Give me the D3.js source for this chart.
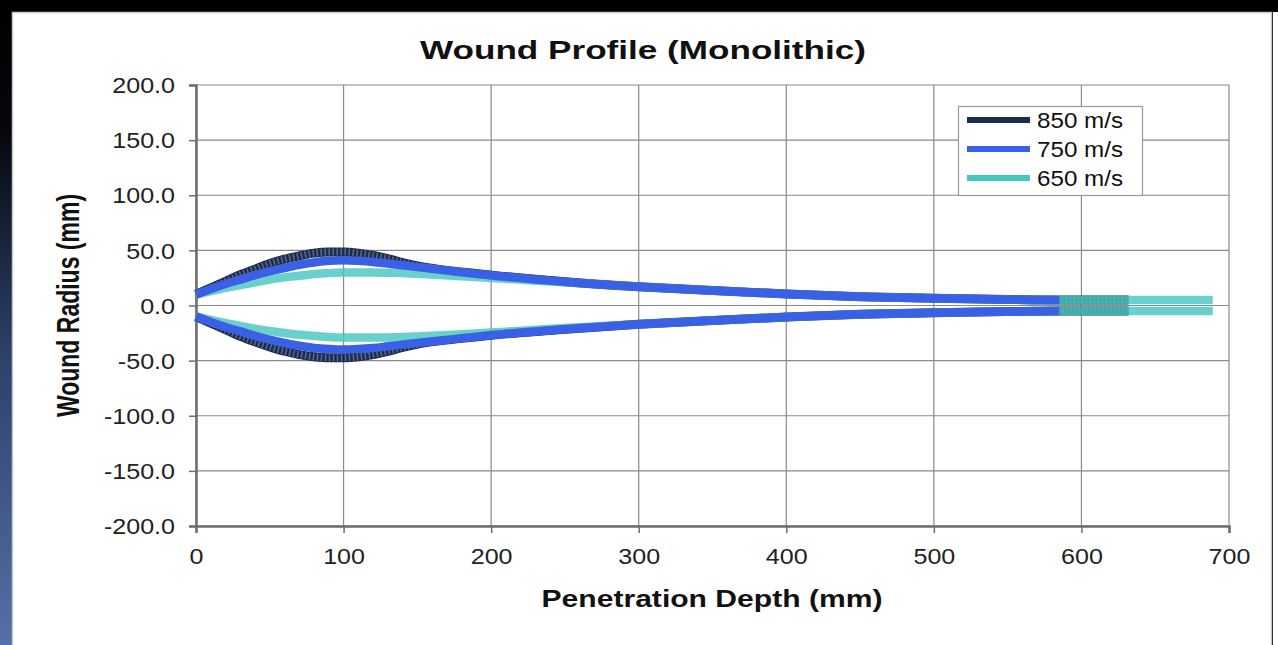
<!DOCTYPE html>
<html>
<head>
<meta charset="utf-8">
<script src="https://cdn.jsdelivr.net/npm/d3@7"></script>
<style>
  body { margin: 0; background: #000; }
  svg { display: block; }
</style>
</head>
<body>
<svg id="chart" width="1278" height="645"></svg>
<script>
// values (depth in mm, radius in mm)
let depth850 = [0, 10, 20, 30, 40, 50, 60, 70, 80, 90, 100, 110, 120, 130, 140, 150, 175, 200, 250, 300, 350, 400, 450, 500, 550, 585, 632]
let upper850 = [10, 16, 22, 28, 33, 38, 42, 45, 47.5, 48.5, 48.5, 47.5, 45.5, 42.5, 39, 36, 31, 27.5, 21.5, 17, 13.5, 10.5, 8, 6.5, 5.5, 5, 5]
let lower850 = [-10, -16, -22, -28, -33, -37.5, -41.5, -44.5, -46.5, -47.5, -47.5, -46.5, -44.5, -41.5, -38, -35, -30.5, -27, -21.5, -17, -13.5, -10.5, -8, -6.5, -5.5, -5, -5]

let depth750 = [0, 10, 20, 30, 40, 50, 60, 70, 80, 90, 100, 110, 120, 130, 140, 150, 175, 200, 250, 300, 350, 400, 450, 500, 550, 585]
let upper750 = [10, 15, 19.5, 23.5, 27.5, 31, 34, 37, 39, 40.5, 41, 40.5, 39.5, 38, 36.5, 35, 31, 27.5, 21.5, 17, 13.5, 10.5, 8, 6.5, 5.5, 5]
let lower750 = [-10, -15, -19.5, -23.5, -27.5, -31, -34, -36.5, -38.5, -39.5, -40, -39.5, -38.5, -37, -35.5, -34, -30.5, -27, -21.5, -17, -13.5, -10.5, -8, -6.5, -5.5, -5]

let depth650 = [0, 10, 20, 30, 40, 50, 60, 70, 80, 90, 100, 120, 140, 160, 180, 200, 225, 250, 300, 350, 400, 450, 500, 550, 585, 632, 689]
let upper650 = [10, 13, 16, 18.5, 21, 23.5, 25.5, 27, 28.5, 29.5, 30, 30, 29.5, 28, 26.5, 25, 23, 21, 17, 13.5, 10.5, 8, 6.5, 5.5, 5, 5, 5]
let lower650 = [-10, -13, -16, -18.5, -21, -23, -25, -26.5, -27.5, -28.5, -29, -29, -28.5, -27.5, -26, -24.5, -22.5, -20.5, -17, -13.5, -10.5, -8, -6.5, -5.5, -5, -5, -5]

let seriesNames = ["850 m/s", "750 m/s", "650 m/s"]
let seriesColors = ["#1d2c4e", "#3a60e6", "#48c6c0"]

let xTicks = [0, 100, 200, 300, 400, 500, 600, 700]
let yTicks = [-200, -150, -100, -50, 0, 50, 100, 150, 200]

let width = 1278
let height = 645

let svg = d3.select("#chart")

// slide background: black with blue fade on the left edge
let defs = svg.append("defs")
let grad = defs.append("linearGradient")
    .attr("id", "edge")
    .attr("x1", 0).attr("y1", 0).attr("x2", 0).attr("y2", 1)
grad.append("stop").attr("offset", "0%").attr("stop-color", "#000")
grad.append("stop").attr("offset", "20%").attr("stop-color", "#05070c")
grad.append("stop").attr("offset", "55%").attr("stop-color", "#2c416a")
grad.append("stop").attr("offset", "100%").attr("stop-color", "#5470a8")

svg.append("rect")
    .attr("x", 0).attr("y", 0)
    .attr("width", 12).attr("height", height)
    .attr("fill", "url(#edge)")

// white chart card
svg.append("rect")
    .attr("x", 12.5).attr("y", 12.5)
    .attr("width", 1259).attr("height", 640)
    .attr("fill", "#fff")
    .attr("stroke", "#c8c8c8")
    .attr("stroke-width", 1.5)
svg.append("rect")
    .attr("x", 1273).attr("y", 12)
    .attr("width", 5).attr("height", height)
    .attr("fill", "#fff")

let margin = { top: 85, right: 49, bottom: 119, left: 196 }

let x = d3.scaleLinear()
    .domain([0, 700])
    .range([margin.left, width - margin.right])

let y = d3.scaleLinear()
    .domain([-200, 200])
    .range([526, margin.top])

let font = "Arial, 'Liberation Sans', sans-serif"
let stretch = 1.14 // the source picture is a bit wider than tall

// gridlines
svg.append("g")
    .selectAll("line")
    .data(yTicks)
    .join("line")
    .attr("x1", x(0))
    .attr("x2", x(700))
    .attr("y1", d => y(d))
    .attr("y2", d => y(d))
    .style("stroke", "#8a8a8a")
    .style("stroke-width", 1.2)

svg.append("g")
    .selectAll("line")
    .data(xTicks)
    .join("line")
    .attr("x1", d => x(d))
    .attr("x2", d => x(d))
    .attr("y1", y(200))
    .attr("y2", y(-200))
    .style("stroke", "#8a8a8a")
    .style("stroke-width", 1.2)

// axes
let xAxisSettings = d3.axisBottom(x)
    .tickValues(xTicks)
    .tickSize(7)
    .tickPadding(15)
    .tickFormat(d3.format("d"))

let yAxisSettings = d3.axisLeft(y)
    .tickValues(yTicks)
    .tickSize(7)
    .tickPadding(14)
    .tickFormat(d => d3.format(".1f")(d).replace("−", "-"))

let xAxis = svg.append("g")
    .attr("transform", `translate(0,${y(-200)})`)
    .call(xAxisSettings)
xAxis.select(".domain").style("stroke", "#6e6e6e").style("stroke-width", 2.5)
xAxis.selectAll(".tick line").style("stroke", "#6e6e6e").style("stroke-width", 1.5)
xAxis.selectAll("text")
    .attr("transform", `scale(${stretch},1)`)
    .style("font-family", font)
    .style("font-size", "22px")
    .style("fill", "#222")

let yAxis = svg.append("g")
    .attr("transform", `translate(${x(0)},0)`)
    .call(yAxisSettings)
yAxis.select(".domain").style("stroke", "#6e6e6e").style("stroke-width", 2.5)
yAxis.selectAll(".tick line").style("stroke", "#6e6e6e").style("stroke-width", 1.5)
yAxis.selectAll("text")
    .attr("x", -21 / stretch)
    .attr("transform", `scale(${stretch},1)`)
    .attr("dy", "0.35em")
    .style("font-family", font)
    .style("font-size", "22px")
    .style("fill", "#222")

// series lines
let line = d3.line()
    .x(d => x(d[0]))
    .y(d => y(d[1]))
    .curve(d3.curveMonotoneX)

// 850 first, 650 slightly see-through over it, 750 on top
let branches = [
    { depth: depth850, r: upper850, s: 0 },
    { depth: depth850, r: lower850, s: 0 },
    { depth: depth650, r: upper650, s: 2 },
    { depth: depth650, r: lower650, s: 2 },
    { depth: depth750, r: upper750, s: 1 },
    { depth: depth750, r: lower750, s: 1 }
]

branches.forEach(function (b) {
    let pts = b.depth.map((d, i) => [d, b.r[i]])
    svg.append("path")
        .attr("d", line(pts))
        .style("fill", "none")
        .style("stroke", seriesColors[b.s])
        .style("stroke-width", b.s == 0 ? 9 : 8.5)
        .style("stroke-linecap", "butt")
        .style("opacity", b.s == 2 ? 0.82 : 1)
    if (b.s == 0) {
        // speckled texture of the dark series
        svg.append("path")
            .attr("d", line(pts))
            .style("fill", "none")
            .style("stroke", "#5a6a88")
            .style("stroke-width", 7)
            .style("stroke-dasharray", "1.5,2.5")
    }
})

// legend
let legend = svg.append("g")
legend.append("rect")
    .attr("x", 958.5).attr("y", 106.5)
    .attr("width", 184).attr("height", 89)
    .attr("fill", "#fff")
    .attr("stroke", "#9a9a9a")
    .attr("stroke-width", 1.2)

seriesNames.forEach(function (name, i) {
    let ly = 120 + i * 29
    legend.append("line")
        .attr("x1", 967).attr("x2", 1030)
        .attr("y1", ly).attr("y2", ly)
        .style("stroke", seriesColors[i])
        .style("stroke-width", 6)
    legend.append("text")
        .attr("transform", `translate(1037,${ly}) scale(1.1,1)`)
        .attr("dy", "0.36em")
        .text(name)
        .style("font-family", font)
        .style("font-size", "22px")
        .style("fill", "#111")
})

// titles
svg.append("text")
    .attr("x", 643).attr("y", 59)
    .attr("text-anchor", "middle")
    .attr("textLength", 446)
    .attr("lengthAdjust", "spacingAndGlyphs")
    .text("Wound Profile (Monolithic)")
    .style("font-family", font)
    .style("font-weight", "bold")
    .style("font-size", "25px")
    .style("fill", "#111")

svg.append("text")
    .attr("x", 712).attr("y", 607)
    .attr("text-anchor", "middle")
    .attr("textLength", 341)
    .attr("lengthAdjust", "spacingAndGlyphs")
    .text("Penetration Depth (mm)")
    .style("font-family", font)
    .style("font-weight", "bold")
    .style("font-size", "23px")
    .style("fill", "#111")

svg.append("text")
    .attr("transform", `translate(79,${y(0)}) scale(1.35,1) rotate(-90)`)
    .attr("text-anchor", "middle")
    .text("Wound Radius (mm)")
    .style("font-family", font)
    .style("font-weight", "bold")
    .style("font-size", "23px")
    .style("fill", "#111")
</script>
</body>
</html>
